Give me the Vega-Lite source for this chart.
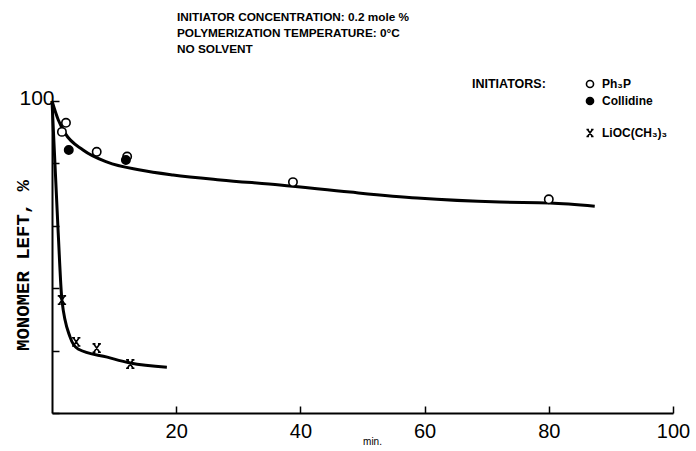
{
  "$schema": "https://vega.github.io/schema/vega-lite/v6.json",
  "width": 621,
  "height": 312,
  "autosize": "none",
  "padding": {"left": 52, "top": 101, "right": 23, "bottom": 38},
  "background": "white",
  "config": {"view": {"stroke": null}, "font": "Liberation Sans"},
  "title": {
    "text": ["INITIATOR CONCENTRATION: 0.2 mole %", "POLYMERIZATION TEMPERATURE: 0°C", "NO SOLVENT"],
    "anchor": "start",
    "frame": "group",
    "dx": 125,
    "offset": 22,
    "fontSize": 11.8,
    "fontWeight": "bold",
    "font": "Liberation Sans",
    "lineHeight": 16,
    "color": "black"
  },
  "datasets": {
    "fits": [
      {"curve": "a", "min": 0, "pct": 100},
      {"curve": "a", "min": 1, "pct": 94},
      {"curve": "a", "min": 2.1, "pct": 89.7},
      {"curve": "a", "min": 5, "pct": 84.3},
      {"curve": "a", "min": 8.9, "pct": 80.4},
      {"curve": "a", "min": 14.2, "pct": 77.9},
      {"curve": "a", "min": 19.5, "pct": 76.3},
      {"curve": "a", "min": 27.1, "pct": 74.7},
      {"curve": "a", "min": 36.7, "pct": 73.1},
      {"curve": "a", "min": 48, "pct": 70.8},
      {"curve": "a", "min": 58.8, "pct": 68.9},
      {"curve": "a", "min": 72.1, "pct": 67.6},
      {"curve": "a", "min": 80.2, "pct": 67.3},
      {"curve": "a", "min": 87.4, "pct": 66.3},
      {"curve": "b", "min": 0, "pct": 100},
      {"curve": "b", "min": 1.0, "pct": 57.7},
      {"curve": "b", "min": 1.6, "pct": 36.2},
      {"curve": "b", "min": 2.9, "pct": 24.4},
      {"curve": "b", "min": 4.2, "pct": 20.5},
      {"curve": "b", "min": 8.9, "pct": 17.9},
      {"curve": "b", "min": 12.6, "pct": 16.0},
      {"curve": "b", "min": 18.5, "pct": 14.7}
    ],
    "points": [
      {"initiator": "Ph₃P", "min": 1.6, "pct": 90.1},
      {"initiator": "Ph₃P", "min": 2.25, "pct": 93.0},
      {"initiator": "Ph₃P", "min": 7.2, "pct": 83.7},
      {"initiator": "Ph₃P", "min": 12.1, "pct": 82.2},
      {"initiator": "Ph₃P", "min": 38.8, "pct": 74.0},
      {"initiator": "Ph₃P", "min": 80, "pct": 68.5},
      {"initiator": "Collidine", "min": 2.7, "pct": 84.3},
      {"initiator": "Collidine", "min": 11.9, "pct": 81.1},
      {"initiator": "LiOC(CH₃)₃", "min": 1.6, "pct": 36.2},
      {"initiator": "LiOC(CH₃)₃", "min": 3.9, "pct": 22.8},
      {"initiator": "LiOC(CH₃)₃", "min": 7.2, "pct": 20.8},
      {"initiator": "LiOC(CH₃)₃", "min": 12.6, "pct": 15.7}
    ]
  },
  "layer": [
    {
      "data": {"name": "fits"},
      "mark": {"type": "line", "color": "black", "strokeWidth": 3, "interpolate": "monotone"},
      "encoding": {
        "x": {
          "field": "min", "type": "quantitative",
          "scale": {"domain": [0, 100], "nice": false},
          "axis": {
            "values": [20, 40, 60, 80, 100],
            "title": "min.",
            "titleFontSize": 10,
            "titleFontWeight": "normal",
            "titleColor": "black",
            "titleX": 320,
            "titleY": 28,
            "titleBaseline": "middle",
            "labelFontSize": 20,
            "labelColor": "black",
            "labelPadding": 15,
            "labelFlush": false,
            "labelOverlap": false,
            "tickSize": -7,
            "tickWidth": 1.5,
            "tickColor": "black",
            "domainColor": "black",
            "domainWidth": 2,
            "grid": false
          }
        },
        "y": {
          "field": "pct", "type": "quantitative",
          "scale": {"domain": [0, 100], "nice": false},
          "axis": {
            "values": [0, 20, 40, 60, 80, 100],
            "labelExpr": "datum.value == 100 ? '100' : ''",
            "labelFontSize": 21,
            "labelColor": "black",
            "labelPadding": 5,
            "labelOffset": -3,
            "labelFlush": false,
            "tickSize": -7,
            "tickWidth": 1.5,
            "tickColor": "black",
            "domainColor": "black",
            "domainWidth": 2,
            "grid": false,
            "title": "MONOMER LEFT, %",
            "titleFont": "Liberation Mono",
            "titleFontWeight": "bold",
            "titleFontSize": 19,
            "titleColor": "black",
            "titleAngle": -90,
            "titleX": -30,
            "titleY": 164,
            "titleAlign": "center",
            "titleBaseline": "middle"
          }
        },
        "detail": {"field": "curve"}
      }
    },
    {
      "data": {"name": "points"},
      "mark": {"type": "point", "strokeWidth": 1.6, "opacity": 1, "size": 70},
      "encoding": {
        "x": {"field": "min", "type": "quantitative"},
        "y": {"field": "pct", "type": "quantitative"},
        "shape": {
          "field": "initiator", "type": "nominal",
          "scale": {
            "domain": ["Ph₃P", "Collidine", " ", "LiOC(CH₃)₃"],
            "range": ["circle", "circle", "M0,0", "M-0.7,-1L0.7,1M-0.7,1L0.7,-1M-1,-1H-0.3M0.3,-1H1M-1,1H-0.3M0.3,1H1"]
          },
          "legend": {
            "title": "INITIATORS:",
            "titleOrient": "left",
            "titleAnchor": "start",
            "titleBaseline": "top",
            "titleFontSize": 12.5,
            "titleFontWeight": "bold",
            "titleColor": "black",
            "titlePadding": 38,
            "labelFontSize": 12,
            "labelFontWeight": "bold",
            "labelColor": "black",
            "labelOffset": 6,
            "symbolStrokeWidth": 1.6,
            "symbolSize": 50,
            "symbolOpacity": 1,
            "rowPadding": 3,
            "orient": "none",
            "legendX": 420,
            "legendY": -23
          }
        },
        "fill": {
          "field": "initiator", "type": "nominal",
          "scale": {
            "domain": ["Ph₃P", "Collidine", " ", "LiOC(CH₃)₃"],
            "range": ["white", "black", "transparent", "transparent"]
          }
        },
        "stroke": {
          "field": "initiator", "type": "nominal",
          "scale": {
            "domain": ["Ph₃P", "Collidine", " ", "LiOC(CH₃)₃"],
            "range": ["black", "black", "transparent", "black"]
          }
        }
      }
    }
  ]
}
